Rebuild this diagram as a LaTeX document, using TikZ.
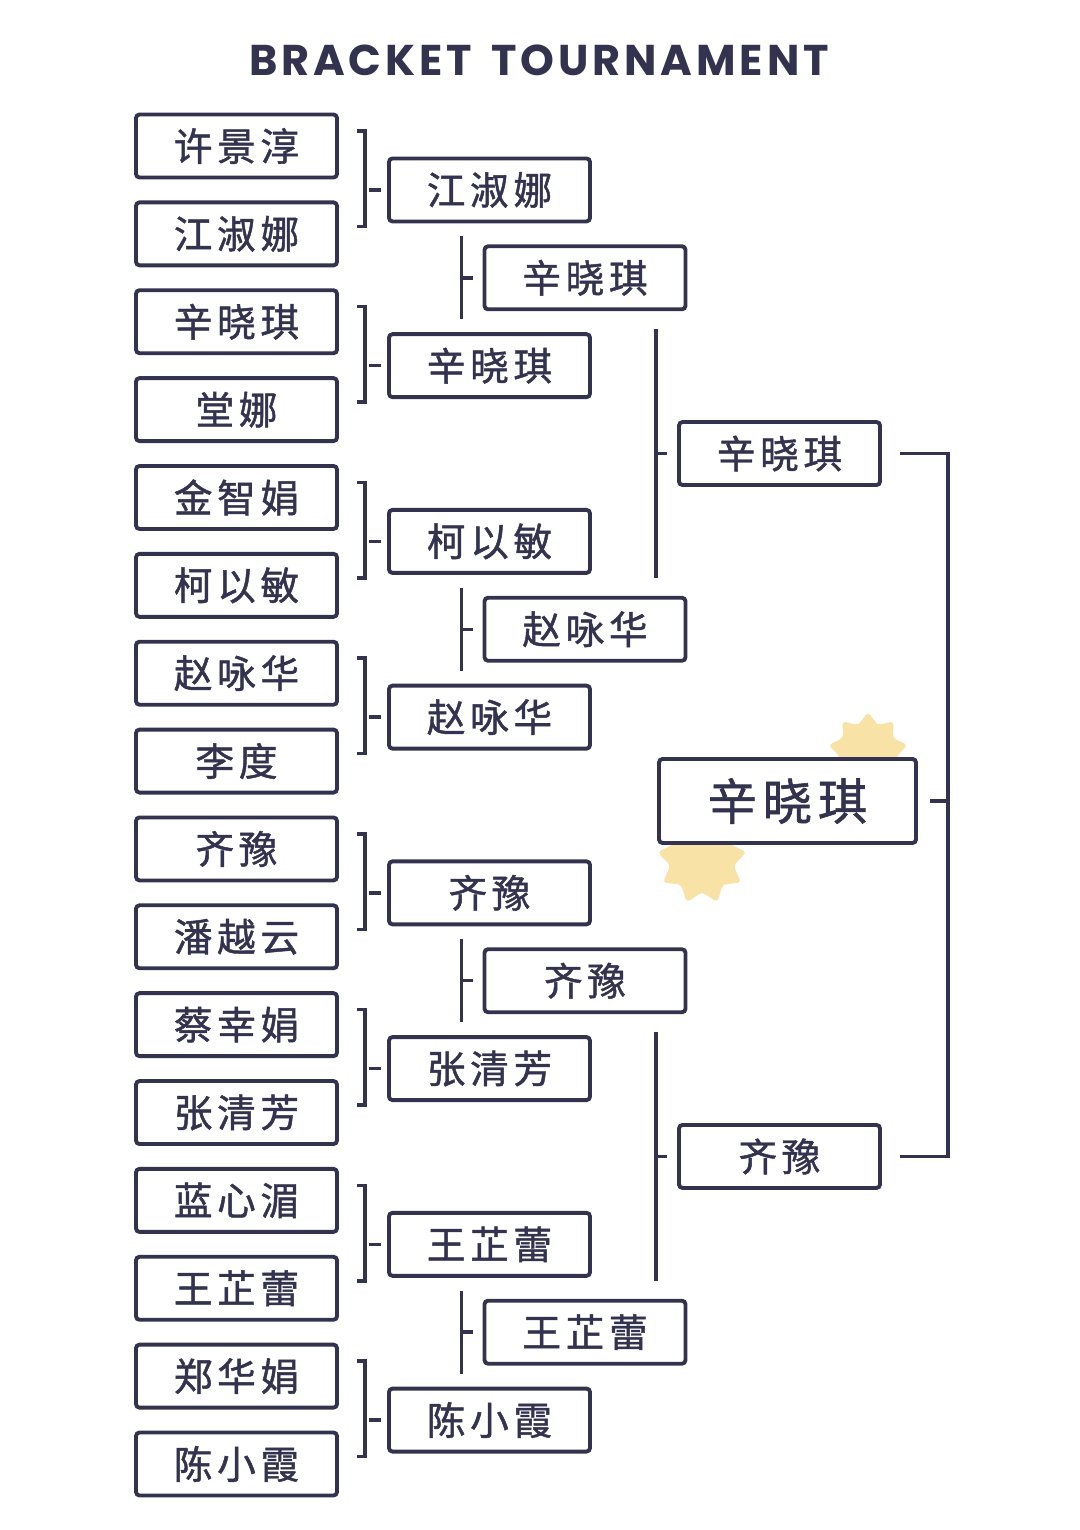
\documentclass[tikz,border=0pt]{standalone}
\usepackage{fontspec}
\usetikzlibrary{positioning,calc,shapes.geometric}
\newfontfamily\cjk[LetterSpace=12,FakeBold=1.2]{Noto Sans CJK SC}
\newfontfamily\titulo[LetterSpace=9]{Poppins}
\definecolor{tinta}{HTML}{34334F}
\definecolor{amarelo}{HTML}{F8E2A6}
\tikzset{
  jogador/.style={rectangle, draw=tinta, line width=2.2pt, rounded corners=2pt, fill=white,
    minimum width=4.02cm, minimum height=1.26cm, inner sep=0pt, text=tinta,
    font=\cjk\fontsize{22}{26}\selectfont},
  campeao/.style={jogador, minimum width=5.14cm, minimum height=1.68cm,
    font=\cjk\fontsize{28}{32}\selectfont},
  ligacao/.style={draw=tinta, line width=2pt},
  estrela/.style={star, star points=9, star point ratio=1.4, rounded corners=2pt, fill=amarelo, draw=none},
}
% chave da 1.a ronda: par (#1,#2) para o vencedor #3
\newcommand{\chave}[3]{%
  \draw[ligacao] ($(#1.east)+(0.36,0.3)$) -- ++(0.16,0) |- ($(#2.east)+(0.36,0.15)$);
  \draw[ligacao] ($(#3.west)+(-0.36,0)$) -- ++(0.24,0);
}
% haste entre dois vencedores (#1,#2) e o seguinte #3, folga #4
\newcommand{\haste}[4]{%
  \draw[ligacao] ($(#1.south -| #3.west)+(-0.42,-#4)$) -- ($(#2.north -| #3.west)+(-0.42,#4)$);
  \draw[ligacao] ($(#3.west)+(-0.42,0)$) -- ++(0.22,0);
}

\begin{document}
\begin{tikzpicture}[node distance=0.42cm]
  \fill[white] (0,0) rectangle (21.6,-30.6);
  \useasboundingbox (0,0) rectangle (21.6,-30.6);
  \node[font=\titulo\bfseries\fontsize{24.5}{28}\selectfont, text=tinta] (titulo) at (10.78,-1.2) {BRACKET\hspace{0.45em}TOURNAMENT};
  % estrelas atras do campeao
  \node[estrela, minimum size=1.6cm] (e1) at (17.36,-15.04) {};
  \node[estrela, minimum size=1.8cm] (e2) at (14.04,-17.2) {};
  % 1.a ronda
  \node[jogador] (a1) at (4.73,-2.92) {许景淳};
  \node[jogador, below=of a1] (a2) {江淑娜};
  \node[jogador, below=of a2] (a3) {辛晓琪};
  \node[jogador, below=of a3] (a4) {堂娜};
  \node[jogador, below=of a4] (a5) {金智娟};
  \node[jogador, below=of a5] (a6) {柯以敏};
  \node[jogador, below=of a6] (a7) {赵咏华};
  \node[jogador, below=of a7] (a8) {李度};
  \node[jogador, below=of a8] (a9) {齐豫};
  \node[jogador, below=of a9] (a10) {潘越云};
  \node[jogador, below=of a10] (a11) {蔡幸娟};
  \node[jogador, below=of a11] (a12) {张清芳};
  \node[jogador, below=of a12] (a13) {蓝心湄};
  \node[jogador, below=of a13] (a14) {王芷蕾};
  \node[jogador, below=of a14] (a15) {郑华娟};
  \node[jogador, below=of a15] (a16) {陈小霞};
  % 2.a ronda
  \node[jogador, xshift=5.06cm] (b1) at ($(a1)!0.5!(a2)$) {江淑娜};
  \node[jogador, xshift=5.06cm] (b2) at ($(a3)!0.5!(a4)$) {辛晓琪};
  \node[jogador, xshift=5.06cm] (b3) at ($(a5)!0.5!(a6)$) {柯以敏};
  \node[jogador, xshift=5.06cm] (b4) at ($(a7)!0.5!(a8)$) {赵咏华};
  \node[jogador, xshift=5.06cm] (b5) at ($(a9)!0.5!(a10)$) {齐豫};
  \node[jogador, xshift=5.06cm] (b6) at ($(a11)!0.5!(a12)$) {张清芳};
  \node[jogador, xshift=5.06cm] (b7) at ($(a13)!0.5!(a14)$) {王芷蕾};
  \node[jogador, xshift=5.06cm] (b8) at ($(a15)!0.5!(a16)$) {陈小霞};
  % 3.a ronda
  \node[jogador, xshift=1.91cm] (c1) at ($(b1)!0.5!(b2)$) {辛晓琪};
  \node[jogador, xshift=1.91cm] (c2) at ($(b3)!0.5!(b4)$) {赵咏华};
  \node[jogador, xshift=1.91cm] (c3) at ($(b5)!0.5!(b6)$) {齐豫};
  \node[jogador, xshift=1.91cm] (c4) at ($(b7)!0.5!(b8)$) {王芷蕾};
  % meias-finais e campeao
  \node[jogador, xshift=3.89cm] (d1) at ($(c1)!0.5!(c2)$) {辛晓琪};
  \node[jogador, xshift=3.89cm] (d2) at ($(c3)!0.5!(c4)$) {齐豫};
  \node[campeao, xshift=0.16cm, yshift=0.08cm] (f) at ($(d1)!0.5!(d2)$) {辛晓琪};
  % ligacoes
  \chave{a1}{a2}{b1}
  \chave{a3}{a4}{b2}
  \chave{a5}{a6}{b3}
  \chave{a7}{a8}{b4}
  \chave{a9}{a10}{b5}
  \chave{a11}{a12}{b6}
  \chave{a13}{a14}{b7}
  \chave{a15}{a16}{b8}
  \haste{b1}{b2}{c1}{0.26}
  \haste{b3}{b4}{c2}{0.26}
  \haste{b5}{b6}{c3}{0.26}
  \haste{b7}{b8}{c4}{0.26}
  \haste{c1}{c2}{d1}{0.36}
  \haste{c3}{c4}{d2}{0.36}
  \draw[ligacao] ($(d1.east)+(0.36,0)$) -- ++(0.96,0) |- ($(d2.east)+(0.36,0)$);
  \draw[ligacao] ($(f.east)+(0.24,0)$) -- ($(f.east -| d1.east)+(1.32,0)$);
\end{tikzpicture}
\end{document}
